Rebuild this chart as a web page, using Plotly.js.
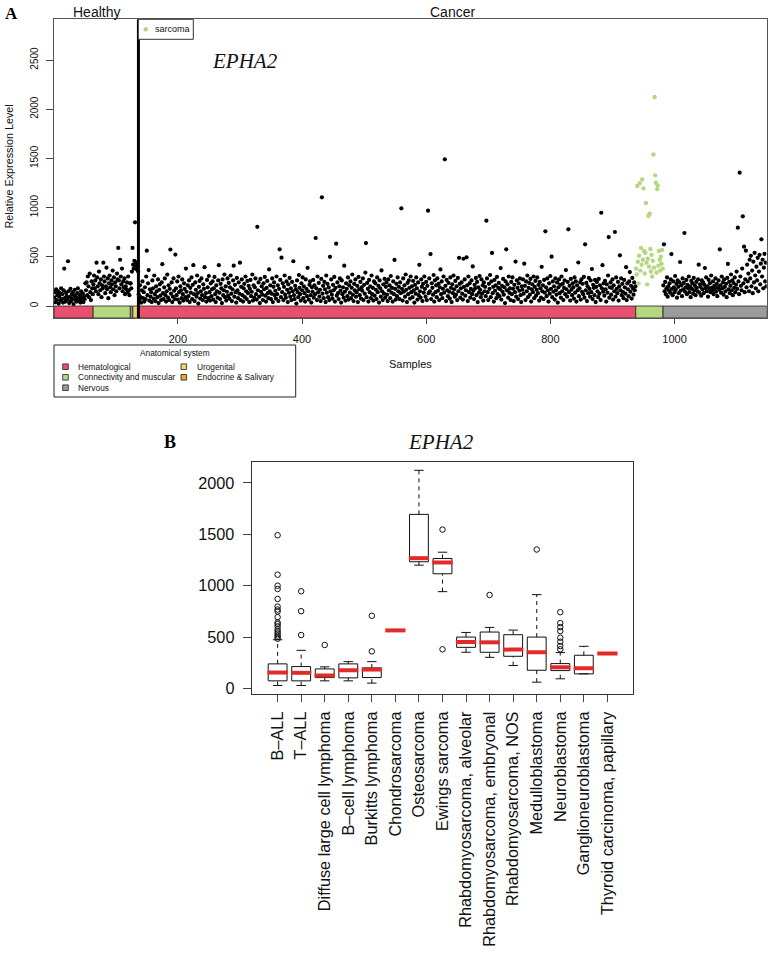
<!DOCTYPE html>
<html><head><meta charset="utf-8">
<script src="https://cdn.plot.ly/plotly-3.0.1.min.js"></script>
<style>html,body{margin:0;padding:0;background:#fff}#chart{width:772px;height:955px}</style>
</head><body><div id="chart"></div>
<script>
// ---------- Panel A data: relative expression per sample, grouped by anatomical system ----------
const healthyHematological = [85,140,40,170,60,110,150,25,95,130,55,180,70,120,35,160,380,80,45,135,100,65,455,150,30,90,175,50,115,70,140,20,105,165,60,90,45,130,180,75,55,110,35,150,85,60,125,40,95,70,230,160,240,110,300,200,90,330,140,60,250,180,120];
const healthyConnective = [220,310,180,260,150,440,290,200,120,350,230,160,270,90,210,180,440,300,250,130,200,390,170,280,80,230,310,190,140,260,220,360,170,290,110,240,200,150,330,270,590,260,180,470,300,220,380,150,250,190,280,120,200,170,240,140,300,160,110,230];
const healthyNervous = [230,180,350,590];
const healthyUrogenital = [420,380,460,850,400,440,370,430,350];
const cancerHematological = [
120,60,210,90,35,160,250,80,140,45,190,70,300,562,110,230,365,55,170,95,
140,40,260,180,75,310,120,50,200,150,90,270,30,165,220,105,60,240,425,130,
70,190,280,110,45,150,320,85,210,60,175,574,125,240,40,95,280,155,70,523,
180,110,250,65,300,140,35,200,160,80,270,120,55,230,175,90,380,145,60,210,
100,260,40,185,135,290,70,215,415,120,50,240,165,95,310,130,25,195,255,75,
150,280,110,60,220,175,395,90,130,45,265,190,80,305,140,55,230,100,170,250,
65,180,295,120,40,210,150,85,260,415,135,70,225,180,30,270,110,160,320,90,
200,55,145,280,105,235,75,190,310,125,50,170,260,410,95,215,140,35,285,160,
80,240,125,440,60,195,270,110,45,180,225,90,300,150,70,255,130,205,40,175,
265,100,145,320,55,210,85,190,280,120,65,805,160,240,95,30,275,145,200,115,
60,230,170,295,105,45,185,255,130,80,372,150,210,70,125,280,40,195,240,110,
155,75,300,120,210,50,175,576,265,90,491,140,230,60,195,310,115,85,250,165,
40,220,135,285,95,180,60,245,150,455,110,70,205,170,25,260,140,90,315,185,
120,55,230,160,290,80,200,130,45,270,175,100,388,150,65,215,250,110,35,190,
145,265,85,210,120,691,180,60,300,140,235,95,165,50,275,1105,125,205,80,245,
170,40,310,135,225,90,190,60,500,150,270,115,75,215,160,295,45,185,633,105,
240,130,70,200,280,155,35,260,120,190,85,410,145,55,230,175,100,290,65,210,
135,250,80,185,320,115,50,225,160,270,95,140,205,40,295,170,110,245,75,190,
155,280,60,215,125,340,640,90,235,175,45,265,140,200,80,310,120,185,55,250,
105,230,165,70,290,140,205,35,260,180,95,362,150,60,220,125,275,85,195,240,
115,50,270,160,210,80,305,135,185,45,250,120,468,175,65,225,100,290,150,195,
70,240,130,993,175,55,280,145,210,95,320,165,40,235,120,260,185,75,300,140,
200,90,255,160,35,215,125,290,180,65,240,110,418,150,85,270,195,50,225,135,
300,175,95,245,60,205,969,130,280,150,528,70,230,185,115,315,45,260,140,210,
90,280,155,225,60,190,372,120,250,80,175,300,135,1491,205,50,265,160,100,235,
145,75,290,185,40,220,130,310,170,95,255,115,200,60,285,150,490,225,85,180,
240,125,65,480,195,270,105,160,495,210,50,300,140,230,85,175,260,120,402,155,
70,215,180,285,110,245,40,190,135,305,165,90,270,125,210,55,240,150,195,100,
867,280,140,60,225,175,315,90,250,539,130,195,45,265,155,210,80,295,120,185,
235,100,170,385,65,205,145,275,115,190,30,250,576,160,220,85,300,135,180,60,
245,120,290,175,50,215,140,452,95,260,185,70,230,155,280,110,40,200,165,270,
125,430,205,60,250,150,310,90,185,235,115,275,45,170,220,140,300,80,195,255,
105,165,290,130,215,55,245,180,85,398,150,210,70,265,135,759,190,100,280,160,
45,230,125,305,175,501,90,250,145,200,65,280,160,115,240,35,190,270,130,215,
85,300,150,225,60,185,260,120,365,170,95,245,779,140,205,55,275,165,110,230,
190,75,290,135,250,45,210,160,442,100,180,240,65,270,145,225,120,295,85,627,
160,235,50,200,130,285,175,95,260,140,376,70,215,185,110,265,40,195,245,150,
90,275,125,210,60,948,180,415,145,230,105,255,170,45,220,135,310,701,85,190,
240,115,185,270,65,210,150,752,95,290,175,130,245,55,200,515,160,280,110,225,
140,80,265,190,125,395,60,230,170,100,250,345,145,205,75,285,180,115,240,160,
200];
const cancerSarcoma = [380,320,1220,450,230,510,1247,360,590,420,1287,470,1196,560,330,540,1047,440,220,480,915,400,938,580,350,520,300,460,1541,390,2124,1328,1253,340,1189,1226,410,560,470,360,500,430,570,380];
const cancerNervous = [
210,627,150,245,120,180,290,95,200,160,230,135,270,528,175,110,250,190,140,305,
165,225,85,260,195,130,240,447,155,210,100,280,170,235,742,145,190,265,120,215,
180,300,140,200,90,255,175,230,125,285,160,205,110,245,185,150,270,420,135,220,
195,105,260,170,240,130,215,386,180,290,150,200,95,265,175,230,140,310,185,160,
250,120,205,175,280,145,225,100,190,260,165,576,210,135,300,180,240,115,270,195,
150,225,90,285,428,170,245,130,205,320,160,260,110,235,185,290,140,215,350,175,
796,250,120,1355,300,205,160,380,911,230,603,140,270,562,190,420,250,330,150,470,
280,510,200,360,130,450,240,540,310,180,400,260,490,150,350,520,220,430,678,300,
470,180,390,530,250,440,200];

const groupValues  = [healthyHematological, healthyConnective, healthyNervous, healthyUrogenital, cancerHematological, cancerSarcoma, cancerNervous];
const groupSystems = ['Hematological','Connectivity and muscular','Nervous','Urogenital','Hematological','Connectivity and muscular','Nervous'];
const groupIsCancer = [false,false,false,false,true,true,true];
const sarcomaGroupIndex = 5;

const systemNames  = ['Hematological','Connectivity and muscular','Nervous','Urogenital','Endocrine & Salivary'];
const systemColors = ['#e9506f','#b4d780','#9b9b9b','#f1d56b','#e9a33b'];
const xTicksA = [200,400,600,800,1000];
const yTicksA = [0,500,1000,1500,2000,2500];

// ---------- Panel B data: summary statistics per tumour type ----------
const boxCategories = ['B–ALL','T–ALL','Diffuse large cell lymphoma','B–cell lymphoma','Burkitts lymphoma','Chondrosarcoma','Osteosarcoma','Ewings sarcoma','Rhabdomyosarcoma, alveolar','Rhabdomyosarcoma, embryonal','Rhabdomyosarcoma, NOS','Medulloblastoma','Neuroblastoma','Ganglioneuroblastoma','Thyroid carcinoma, papillary'];
const boxQ1     = [74,74,106,103,106,565,1233,1116,400,352,313,177,174,142,339];
const boxMedian = [155,152,126,177,184,565,1268,1226,452,449,378,352,207,197,339];
const boxQ3     = [239,213,190,239,200,565,1694,1265,500,549,523,500,242,323,339];
const boxLower  = [29,29,74,74,52,565,1200,942,352,303,223,61,94,142,339];
const boxUpper  = [474,371,210,261,261,565,2123,1326,545,594,568,913,349,410,339];
const boxOutliers = [
  [1491,1107,1000,968,871,797,768,749,694,642,626,604,575,555,536,516,500,484],
  [946,752,520],[423],[],[707,361],[],[],[1546,381],[],[910],[],[1352],
  [742,636,597,558,494,455,413,381],[],[]];
const yTicksB = [0,500,1000,1500,2000];

// ---------- geometry helpers ----------
const W = 772, H = 955;
const PX = x => x / W, PY = y => 1 - y / H;
const sans = 'Liberation Sans, Arial, Helvetica, sans-serif';
const serif = 'Liberation Serif, Times New Roman, serif';
const colorOf = s => systemColors[systemNames.indexOf(s)];

const yRangeA = [-122, 2914];
const xRangeA = [0.5, 1148.5];

// ---------- build panel A ----------
const blackX = [], blackY = [], greenX = [], greenY = [];
const shapes = [], annotations = [];
let start = 1, healthyEnd = 0;
groupValues.forEach((vals, g) => {
  vals.forEach((v, i) => {
    if (g === sarcomaGroupIndex) { greenX.push(start + i); greenY.push(v); }
    else { blackX.push(start + i); blackY.push(v); }
  });
  shapes.push({type:'rect', xref:'x', yref:'y', x0:start-0.5, x1:start+vals.length-0.5,
    y0:yRangeA[0], y1:0, fillcolor:colorOf(groupSystems[g]), line:{color:'#222', width:0.8}, layer:'above'});
  start += vals.length;
  if (!groupIsCancer[g]) healthyEnd = start - 0.5;
});
const totalEnd = start - 0.5;

// healthy / cancer separator
shapes.push({type:'line', xref:'x', yref:'y domain', x0:healthyEnd, x1:healthyEnd, y0:0, y1:1,
  line:{color:'#000', width:3}, layer:'above'});

// sarcoma legend (top-left of cancer area)
shapes.push({type:'rect', xref:'paper', yref:'paper', x0:PX(138.3), x1:PX(193.3), y0:PY(39.3), y1:PY(19.3),
  line:{color:'#333', width:1}, fillcolor:'#fff', layer:'above'});
shapes.push({type:'circle', xref:'paper', yref:'paper', x0:PX(143.4), x1:PX(148), y0:PY(31.6), y1:PY(27),
  line:{width:0}, fillcolor:systemColors[1], layer:'above'});
annotations.push({text:'sarcoma', xref:'paper', yref:'paper', x:PX(152.5), y:PY(29.3), xanchor:'left', yanchor:'middle',
  showarrow:false, font:{family:sans, size:9, color:'#111'}});

// anatomical system legend
shapes.push({type:'rect', xref:'paper', yref:'paper', x0:PX(54), x1:PX(295.7), y0:PY(397), y1:PY(345),
  line:{color:'#222', width:1}, fillcolor:'rgba(0,0,0,0)'});
annotations.push({text:'Anatomical system', xref:'paper', yref:'paper', x:PX(175), y:PY(352.7), xanchor:'center', yanchor:'middle',
  showarrow:false, font:{family:sans, size:8.3, color:'#111'}});
const legendCols = [[0,1,2],[3,4]];
const colSquareX = [65.5, 183.8], colTextX = [76, 195], rowY = [366.7, 377.3, 387.7];
legendCols.forEach((col, c) => col.forEach((s, r) => {
  shapes.push({type:'rect', xref:'paper', yref:'paper', x0:PX(colSquareX[c]-2.8), x1:PX(colSquareX[c]+2.8),
    y0:PY(rowY[r]+2.8), y1:PY(rowY[r]-2.8), fillcolor:systemColors[s], line:{color:'#222', width:0.8}});
  annotations.push({text:systemNames[s], xref:'paper', yref:'paper', x:PX(colTextX[c]), y:PY(rowY[r]), xanchor:'left', yanchor:'middle',
    showarrow:false, font:{family:sans, size:8.3, color:'#111'}});
}));

// panel A texts
annotations.push({text:'<b>A</b>', xref:'paper', yref:'paper', x:PX(11.5), y:PY(14), xanchor:'center', yanchor:'middle', showarrow:false, font:{family:serif, size:17, color:'#000'}});
annotations.push({text:'Healthy', xref:'x', yref:'paper', x:(xRangeA[0]+healthyEnd)/2, y:PY(11.5), xanchor:'center', yanchor:'middle', showarrow:false, font:{family:sans, size:14, color:'#111'}});
annotations.push({text:'Cancer', xref:'x', yref:'paper', x:(healthyEnd+totalEnd)/2, y:PY(11.5), xanchor:'center', yanchor:'middle', showarrow:false, font:{family:sans, size:14, color:'#111'}});
annotations.push({text:'<i>EPHA2</i>', xref:'paper', yref:'paper', x:PX(245), y:PY(61), xanchor:'center', yanchor:'middle', showarrow:false, font:{family:serif, size:21, color:'#111'}});
annotations.push({text:'Relative Expression Level', xref:'paper', yref:'paper', x:PX(8.5), y:PY(167), xanchor:'center', yanchor:'middle', textangle:-90, showarrow:false, font:{family:sans, size:10.8, color:'#111'}});
annotations.push({text:'Samples', xref:'paper', yref:'paper', x:PX(410.5), y:PY(364), xanchor:'center', yanchor:'middle', showarrow:false, font:{family:sans, size:11, color:'#111'}});

// panel B texts
annotations.push({text:'<b>B</b>', xref:'paper', yref:'paper', x:PX(170), y:PY(442), xanchor:'center', yanchor:'middle', showarrow:false, font:{family:serif, size:18, color:'#000'}});
annotations.push({text:'<i>EPHA2</i>', xref:'paper', yref:'paper', x:PX(441), y:PY(442), xanchor:'center', yanchor:'middle', showarrow:false, font:{family:serif, size:21, color:'#111'}});

// ---------- build panel B ----------
const pos = boxCategories.map((c, i) => i + 1);
const whX = [], whY = [], stX = [], stY = [], mdX = [], mdY = [], ouX = [], ouY = [];
pos.forEach((p, i) => {
  const single = boxQ1[i] === boxQ3[i] && boxLower[i] === boxUpper[i];
  if (!single) {
    if (boxLower[i] < boxQ1[i]) { whX.push(p, p, null); whY.push(boxLower[i], boxQ1[i], null); }
    if (boxUpper[i] > boxQ3[i]) { whX.push(p, p, null); whY.push(boxQ3[i], boxUpper[i], null); }
    stX.push(p-0.2, p+0.2, null, p-0.2, p+0.2, null);
    stY.push(boxLower[i], boxLower[i], null, boxUpper[i], boxUpper[i], null);
  }
  mdX.push(p-0.43, p+0.43, null); mdY.push(boxMedian[i], boxMedian[i], null);
  boxOutliers[i].forEach(v => { ouX.push(p); ouY.push(v); });
});

const traces = [
  {type:'scatter', mode:'markers', x:blackX, y:blackY, marker:{color:'#000', size:4.2}, hoverinfo:'skip', showlegend:false, xaxis:'x', yaxis:'y'},
  {type:'scatter', mode:'markers', name:'sarcoma', x:greenX, y:greenY, marker:{color:systemColors[1], size:4.4}, hoverinfo:'skip', showlegend:false, xaxis:'x', yaxis:'y'},
  {type:'box', x:pos, q1:boxQ1, median:boxMedian, q3:boxQ3, lowerfence:boxQ1, upperfence:boxQ3, width:0.8,
    fillcolor:'#fff', line:{color:'#111', width:1}, whiskerwidth:0, boxpoints:false, hoverinfo:'skip', showlegend:false, xaxis:'x2', yaxis:'y2'},
  {type:'scatter', mode:'lines', x:whX, y:whY, line:{color:'#111', width:1, dash:'4px,4px'}, hoverinfo:'skip', showlegend:false, xaxis:'x2', yaxis:'y2'},
  {type:'scatter', mode:'lines', x:stX, y:stY, line:{color:'#111', width:1}, hoverinfo:'skip', showlegend:false, xaxis:'x2', yaxis:'y2'},
  {type:'scatter', mode:'lines', x:mdX, y:mdY, line:{color:'#e32a2a', width:4}, hoverinfo:'skip', showlegend:false, xaxis:'x2', yaxis:'y2'},
  {type:'scatter', mode:'markers', x:ouX, y:ouY, marker:{symbol:'circle-open', color:'#111', size:5.5, line:{width:1}}, hoverinfo:'skip', showlegend:false, xaxis:'x2', yaxis:'y2'}
];

const axisBase = {showgrid:false, zeroline:false, showline:true, mirror:true, linecolor:'#555', linewidth:1,
  ticks:'outside', tickcolor:'#444', tickwidth:1, fixedrange:true};

const layout = {
  width:W, height:H, margin:{l:0, r:0, t:0, b:0}, paper_bgcolor:'#fff', plot_bgcolor:'#fff', showlegend:false,
  xaxis: Object.assign({}, axisBase, {domain:[PX(54), PX(766.7)], range:xRangeA, tickmode:'array', tickvals:xTicksA,
    ticklen:5, ticklabelstandoff:6, tickfont:{family:sans, size:11, color:'#111'}, anchor:'y'}),
  yaxis: Object.assign({}, axisBase, {domain:[PY(318), PY(19.3)], range:yRangeA, tickmode:'array', tickvals:yTicksA,
    ticklen:7, tickangle:-90, ticklabelstandoff:4, tickfont:{family:sans, size:10, color:'#111'}, anchor:'x'}),
  xaxis2: Object.assign({}, axisBase, {domain:[PX(251.7), PX(633.3)], range:[-0.1, 16.1], tickmode:'array', tickvals:pos, ticktext:boxCategories,
    ticklen:7, tickangle:-90, ticklabelstandoff:3, tickfont:{family:sans, size:16.3, color:'#111'}, anchor:'y2', linecolor:'#333'}),
  yaxis2: Object.assign({}, axisBase, {domain:[PY(694), PY(462.3)], range:[-54, 2201], tickmode:'array', tickvals:yTicksB,
    ticklen:8, ticklabelstandoff:5, tickfont:{family:sans, size:16.3, color:'#111'}, anchor:'x2', linecolor:'#333'}),
  shapes: shapes, annotations: annotations
};

Plotly.newPlot('chart', traces, layout, {staticPlot:true, displayModeBar:false});
</script></body></html>
